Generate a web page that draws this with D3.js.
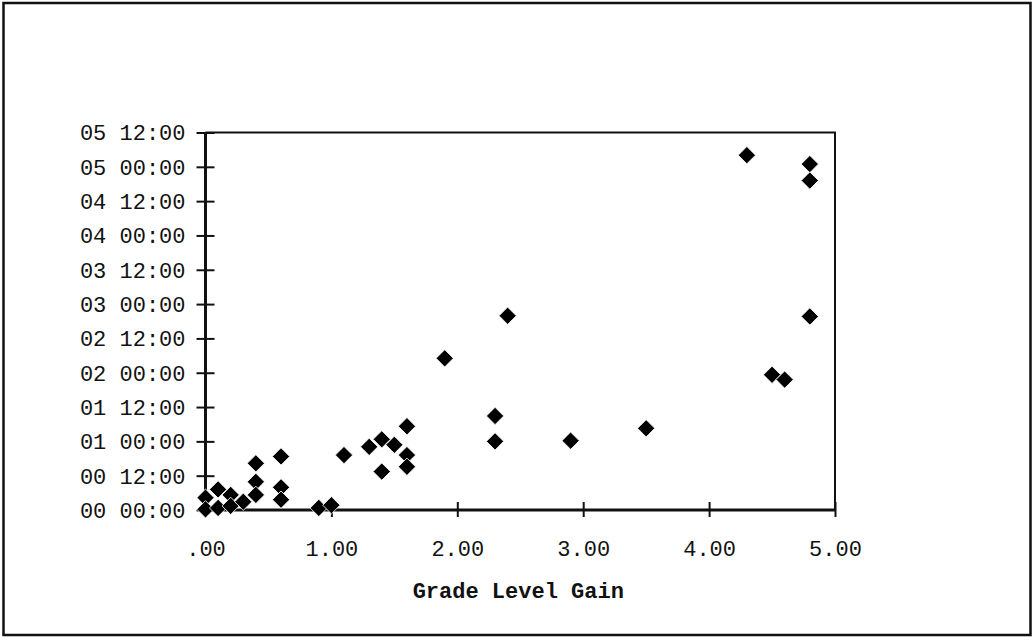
<!DOCTYPE html>
<html>
<head>
<meta charset="utf-8">
<script src="https://cdn.jsdelivr.net/npm/d3@7"></script>
<style>
  html, body { margin: 0; padding: 0; background: #fff; }
  svg { display: block; }
  text { font-family: "Liberation Mono", "Courier New", monospace; fill: #111; }
</style>
</head>
<body>
<svg id="chart" width="1035" height="641"></svg>
<script>
// ---- data (grade level gain vs. time in days) ----
const gradeGain = [
  0.00, 0.00, 0.10, 0.10, 0.20, 0.20, 0.30,
  0.40, 0.40, 0.40, 0.60, 0.60, 0.60,
  0.90, 1.00, 1.10, 1.30, 1.40, 1.40, 1.50,
  1.60, 1.60, 1.60, 1.90, 2.30, 2.30, 2.40,
  2.90, 3.50, 4.30, 4.50, 4.60, 4.80, 4.80, 4.80
];
const timeDays = [
  0.18, 0.01, 0.30, 0.03, 0.22, 0.06, 0.12,
  0.68, 0.41, 0.22, 0.78, 0.33, 0.15,
  0.03, 0.07, 0.80, 0.92, 1.03, 0.56, 0.95,
  1.22, 0.80, 0.63, 2.21, 1.37, 1.00, 2.83,
  1.01, 1.19, 5.17, 1.97, 1.90, 5.04, 4.80, 2.82
];
const xTickValues = [0, 1, 2, 3, 4, 5];
const xTickLabels = [".00", "1.00", "2.00", "3.00", "4.00", "5.00"];
const yTickValues = [0, 0.5, 1, 1.5, 2, 2.5, 3, 3.5, 4, 4.5, 5, 5.5];
const yTickLabels = ["00 00:00", "00 12:00", "01 00:00", "01 12:00", "02 00:00", "02 12:00",
                     "03 00:00", "03 12:00", "04 00:00", "04 12:00", "05 00:00", "05 12:00"];
const xTitle = "Grade Level Gain";

const svg = d3.select("#chart");

// outer frame
svg.append("rect")
  .attr("x", 3.5).attr("y", 3).attr("width", 1027).attr("height", 632)
  .attr("fill", "none").attr("stroke", "#111").attr("stroke-width", 2.5);

const plot = { left: 205.5, right: 835, top: 132.5, bottom: 510 };

const x = d3.scaleLinear().domain([0, 5]).range([plot.left, plot.right]);
const y = d3.scaleLinear().domain([0, 5.5]).range([plot.bottom, plot.top]);

// top & right border of plot area
svg.append("path")
  .attr("d", `M${plot.left},${plot.top}H${plot.right}V${plot.bottom}`)
  .attr("fill", "none").attr("stroke", "#111").attr("stroke-width", 2);

// y axis
const yAxis = svg.append("g")
  .attr("transform", `translate(${plot.left},0)`)
  .call(d3.axisLeft(y).tickValues(yTickValues)
    .tickFormat((d, i) => yTickLabels[i]).tickSize(9).tickPadding(0));
yAxis.select(".domain").attr("stroke", "#111").attr("stroke-width", 3)
  .attr("d", `M0,${plot.bottom + 1}V${plot.top}`);
yAxis.selectAll(".tick line").attr("x1", -9).attr("x2", 9)
  .attr("stroke", "#111").attr("stroke-width", 2);
yAxis.selectAll(".tick text")
  .attr("x", -20).attr("dy", "0.34em")
  .style("font-size", "22px").style("font-family", "'Liberation Mono', monospace")
  .attr("fill", "#111");

// x axis
const xAxis = svg.append("g")
  .attr("transform", `translate(0,${plot.bottom})`)
  .call(d3.axisBottom(x).tickValues(xTickValues)
    .tickFormat((d, i) => xTickLabels[i]).tickSize(7).tickPadding(0));
xAxis.select(".domain").attr("stroke", "#111").attr("stroke-width", 3)
  .attr("d", `M${plot.left},0H${plot.right}`);
xAxis.selectAll(".tick line").attr("y1", -8).attr("y2", 7)
  .attr("stroke", "#111").attr("stroke-width", 2);
xAxis.selectAll(".tick text")
  .attr("y", 46).attr("dy", 0)
  .style("font-size", "22px").style("font-family", "'Liberation Mono', monospace")
  .attr("fill", "#111");

// x title
svg.append("text")
  .attr("x", (plot.left + plot.right) / 2 - 2)
  .attr("y", 598)
  .attr("text-anchor", "middle")
  .style("font-size", "22px")
  .style("font-weight", "bold")
  .text(xTitle);

// points: diamonds (rotated squares)
const diamond = d3.symbol().type(d3.symbolSquare).size(150);
const pts = gradeGain.map((g, i) => ({ g, t: timeDays[i] }));
svg.append("g").selectAll("path")
  .data(pts)
  .join("path")
  .attr("d", diamond)
  .attr("transform", d => `translate(${x(d.g)},${y(d.t)}) rotate(45)`)
  .attr("fill", "#000")
  .attr("stroke", "#fff")
  .attr("stroke-width", 0.8);
</script>
</body>
</html>
